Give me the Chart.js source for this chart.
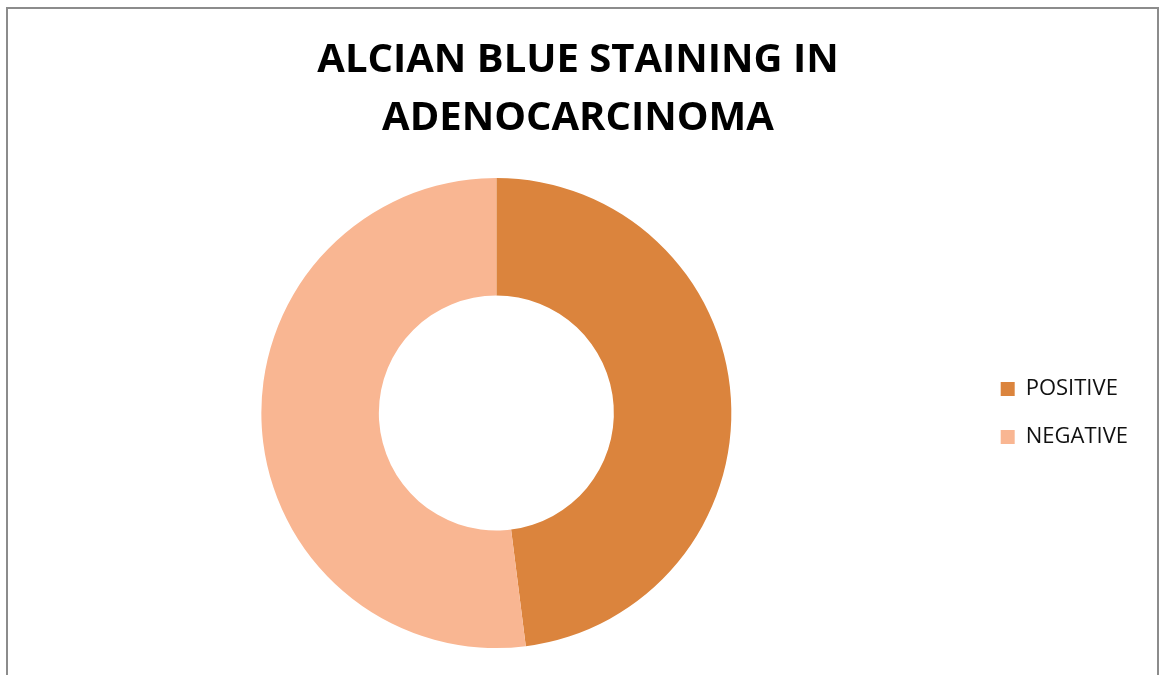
<!DOCTYPE html>
<html>
<head>
<meta charset="utf-8">
<script src="https://cdn.jsdelivr.net/npm/chart.js@4/dist/chart.umd.min.js"></script>
<style>
  html, body { margin: 0; padding: 0; background: #fff; }
  #wrap { position: relative; width: 1160px; height: 675px; overflow: hidden; }
  #frame {
    position: absolute; left: 6px; top: 7px; width: 1149px; height: 700px;
    border: 2px solid #8c8c8c; border-bottom: none;
  }
  #chart { position: absolute; left: 0; top: 0; }
</style>
</head>
<body>
<div id="wrap">
  <div id="frame"></div>
  <canvas id="chart" width="1160" height="675"></canvas>
</div>
<script>
// Alcian blue staining results
const titleLines = ["ALCIAN BLUE STAINING IN", "ADENOCARCINOMA"];
const categories = ["POSITIVE", "NEGATIVE"];
const percentages = [48, 52];
const sliceColors = ["#db843d", "#f9b692"];

const ctx = document.getElementById("chart").getContext("2d");
const stainChart = new Chart(ctx, {
  type: "doughnut",
  data: {
    labels: categories,
    datasets: [{
      data: percentages,
      backgroundColor: sliceColors,
      borderWidth: 0
    }]
  },
  options: {
    responsive: false,
    animation: false,
    cutout: "50%",
    layout: { padding: { left: 18, right: 22, top: 0, bottom: 27 } },
    plugins: {
      title: {
        display: true,
        text: titleLines,
        color: "#000",
        font: { family: "Open Sans", size: 40, weight: "bold", lineHeight: 1.45 },
        padding: { top: 32, bottom: 30 }
      },
      legend: {
        position: "right",
        fullSize: false,
        labels: {
          boxWidth: 14,
          boxHeight: 14,
          padding: 26,
          color: "#111",
          font: { family: "Open Sans", size: 22 }
        }
      },
      tooltip: { enabled: false }
    }
  }
});
</script>
</body>
</html>
